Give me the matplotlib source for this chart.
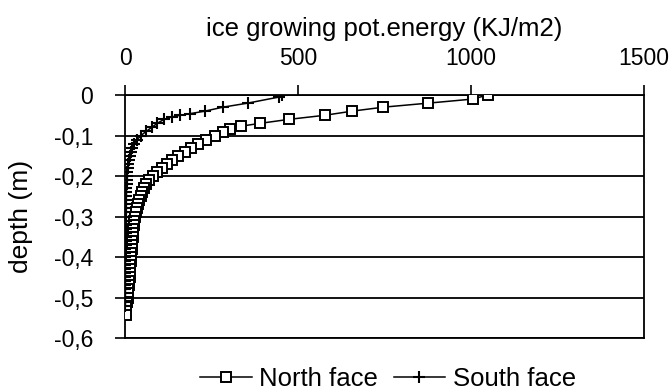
import matplotlib
matplotlib.use("Agg")
import matplotlib.pyplot as plt
from matplotlib.ticker import FuncFormatter

plt.rcParams["font.family"] = ["Liberation Sans", "DejaVu Sans"]

# ice growing potential energy (KJ/m2) against depth (m)
north_depth = [0.0, -0.01, -0.02, -0.03, -0.04, -0.05, -0.06, -0.07, -0.077,
               -0.085, -0.092, -0.10, -0.11, -0.12, -0.13, -0.14, -0.15, -0.16,
               -0.17, -0.18, -0.19, -0.20, -0.21, -0.22, -0.23, -0.24, -0.25,
               -0.26, -0.27, -0.28, -0.29, -0.30, -0.31, -0.32, -0.33, -0.34,
               -0.35, -0.36, -0.37, -0.38, -0.39, -0.40, -0.41, -0.42, -0.43,
               -0.44, -0.45, -0.46, -0.47, -0.48, -0.49, -0.50, -0.51, -0.522,
               -0.544]
north_energy = [1048, 1005, 877, 747, 655, 578, 475, 390, 335,
                303, 282, 260, 235, 212, 192, 172, 154, 136,
                121, 107, 93, 81, 70, 62, 55, 50, 45,
                41, 37, 34, 31, 29, 27, 26, 24, 23,
                22, 21, 20, 19, 18, 17, 16, 15, 14,
                13, 13, 12, 11, 10, 10, 9, 7, 3,
                2]

south_depth = [0.0, -0.005, -0.02, -0.03, -0.04, -0.046, -0.05, -0.054, -0.06,
               -0.07, -0.08, -0.09, -0.10, -0.11, -0.12, -0.13, -0.14, -0.15,
               -0.16, -0.17, -0.18, -0.19, -0.20, -0.21, -0.22, -0.23, -0.24,
               -0.25, -0.26, -0.27, -0.28, -0.29, -0.30, -0.31, -0.32, -0.33,
               -0.34, -0.35, -0.36, -0.37, -0.38, -0.39, -0.40, -0.41, -0.42,
               -0.43, -0.44, -0.45, -0.46, -0.47, -0.48, -0.49, -0.50, -0.51,
               -0.52]
south_energy = [455, 445, 355, 283, 230, 188, 160, 135, 113,
                93, 77, 61, 46, 35, 27, 21, 17, 14,
                11, 9, 8, 7, 6, 5, 5, 4, 4,
                4, 3, 3, 3, 3, 3, 2, 2, 2,
                2, 2, 2, 2, 1, 1, 1, 1, 1,
                1, 1, 1, 1, 1, 1, 1, 1, 1,
                1]

x_ticks = [0, 500, 1000, 1500]
y_ticks = [0, -0.1, -0.2, -0.3, -0.4, -0.5, -0.6]

fig = plt.figure(figsize=(6.71, 3.91), dpi=100)
ax = fig.add_axes([0.1863, 0.1355, 0.7735, 0.6215])

ax.plot(north_energy, north_depth, color="black", lw=1.1, marker="s",
        markersize=7.5, markerfacecolor="white", markeredgecolor="black",
        markeredgewidth=1.4, label="North face", zorder=3)
ax.plot(south_energy, south_depth, color="black", lw=1.1, marker="+",
        markersize=9, markeredgewidth=1.5, label="South face", zorder=4)

ax.set_xlim(0, 1500)
ax.set_ylim(-0.6, 0)
ax.set_xticks(x_ticks)
ax.set_yticks(y_ticks)
ax.yaxis.set_major_formatter(
    FuncFormatter(lambda v, p: "0" if abs(v) < 1e-9 else f"{v:.1f}".replace(".", ",")))

ax.xaxis.tick_top()
ax.xaxis.set_label_position("top")
ax.tick_params(axis="x", direction="out", length=7, width=1.2, labelsize=16.5, pad=11)
ax.tick_params(axis="y", direction="out", length=7, width=1.2, labelsize=16.5, pad=16)

ax.set_xlabel("ice growing pot.energy (KJ/m2)", fontsize=18.5, labelpad=8)
ax.set_ylabel("depth (m)", fontsize=19, labelpad=15)

ax.yaxis.grid(True, color="black", lw=1.3)
ax.set_axisbelow(True)
for side in ["left", "right", "top", "bottom"]:
    ax.spines[side].set_linewidth(1.3)

fig.legend(*ax.get_legend_handles_labels(), loc="center",
           bbox_to_anchor=(388 / 671, 1 - 379 / 391), ncol=2, frameon=False,
           fontsize=18.5, handlelength=2.0, handletextpad=0.3, columnspacing=0.6,
           borderpad=0.0, borderaxespad=0.0)

fig.savefig("out.png", dpi=100)
